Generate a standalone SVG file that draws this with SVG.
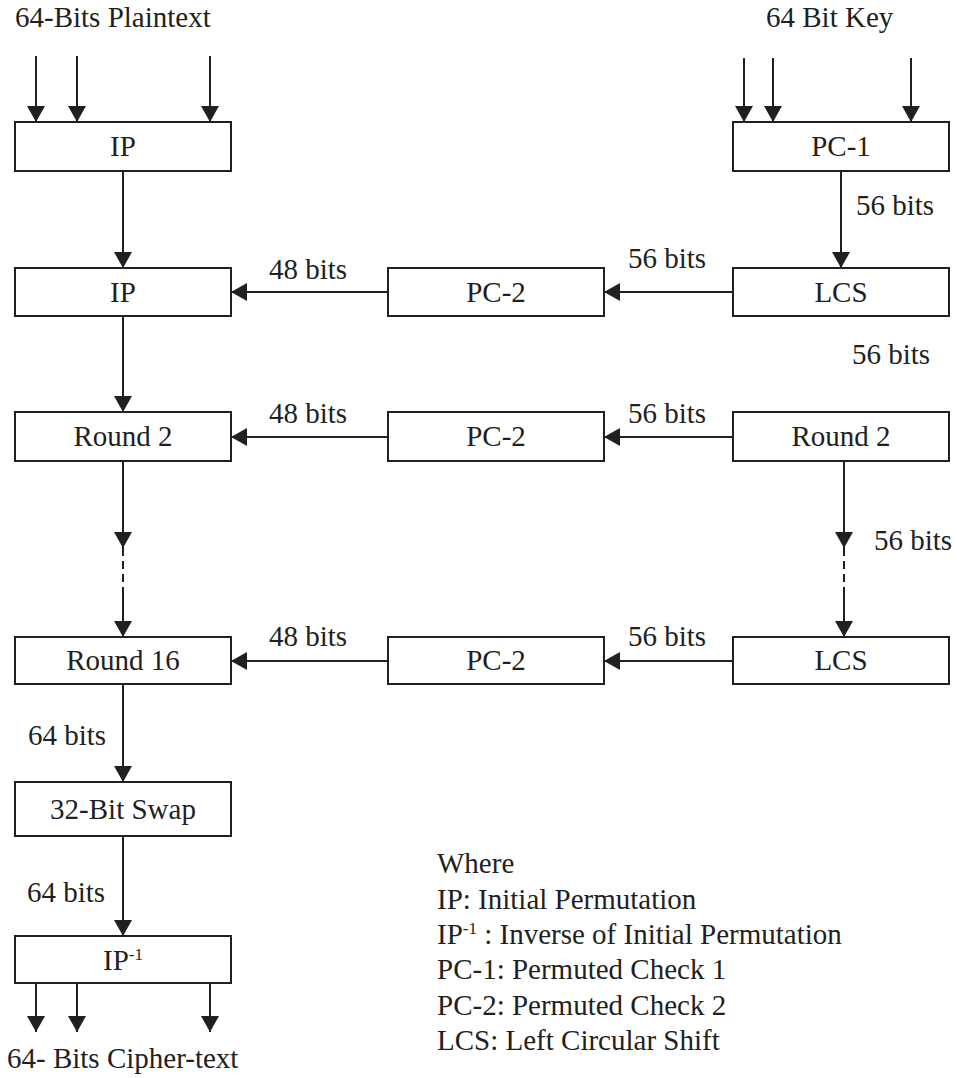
<svg xmlns="http://www.w3.org/2000/svg" width="957" height="1078" viewBox="0 0 957 1078" font-family="'Liberation Serif', 'Times New Roman', Times, 'DejaVu Serif', serif">
  <style>
    .box { fill: #ffffff; stroke: #231f20; stroke-width: 2; }
    .lbl { font-family: 'Liberation Serif', 'Times New Roman', Times, 'DejaVu Serif', serif; font-size: 29px; fill: #231f20; }
    .mid { text-anchor: middle; }
    .sup { font-size: 17px; }
    .ln { fill: none; stroke: #231f20; stroke-width: 2; }
    .arr { marker-end: url(#head); }
    .dash { stroke-dasharray: 8 5; }
  </style>
  <defs>
    <marker id="head" viewBox="0 0 16 18" refX="16" refY="9" markerWidth="16" markerHeight="18" markerUnits="userSpaceOnUse" orient="auto">
      <path d="M0,0 L16,9 L0,18 z" fill="#231f20"/>
    </marker>
  </defs>
  <rect width="957" height="1078" fill="#ffffff"/>

  <!-- connectors -->
  <g id="connectors">
    <!-- plaintext inputs -->
    <line class="ln arr" x1="36" y1="56" x2="36" y2="122"/>
    <line class="ln arr" x1="77" y1="56" x2="77" y2="122"/>
    <line class="ln arr" x1="210" y1="56" x2="210" y2="122"/>
    <!-- key inputs -->
    <line class="ln arr" x1="744" y1="58" x2="744" y2="122"/>
    <line class="ln arr" x1="773" y1="58" x2="773" y2="122"/>
    <line class="ln arr" x1="911" y1="58" x2="911" y2="122"/>
    <!-- data path -->
    <line class="ln arr" x1="123" y1="171" x2="123" y2="268"/>
    <line class="ln arr" x1="123" y1="316" x2="123" y2="412"/>
    <line class="ln arr" x1="123" y1="461" x2="123" y2="548"/>
    <line class="ln dash" x1="123" y1="548" x2="123" y2="593"/>
    <line class="ln arr" x1="123" y1="593" x2="123" y2="637"/>
    <line class="ln arr" x1="123" y1="684" x2="123" y2="782"/>
    <line class="ln arr" x1="123" y1="836" x2="123" y2="936"/>
    <!-- key path -->
    <line class="ln arr" x1="841" y1="171" x2="841" y2="268"/>
    <line class="ln arr" x1="844" y1="461" x2="844" y2="548"/>
    <line class="ln dash" x1="844" y1="548" x2="844" y2="593"/>
    <line class="ln arr" x1="844" y1="593" x2="844" y2="637"/>
    <!-- subkey rows -->
    <line class="ln arr" x1="733" y1="292" x2="604" y2="292"/>
    <line class="ln arr" x1="388" y1="292" x2="231" y2="292"/>
    <line class="ln arr" x1="733" y1="437" x2="604" y2="437"/>
    <line class="ln arr" x1="388" y1="437" x2="231" y2="437"/>
    <line class="ln arr" x1="733" y1="661" x2="604" y2="661"/>
    <line class="ln arr" x1="388" y1="661" x2="231" y2="661"/>
    <!-- ciphertext outputs -->
    <line class="ln arr" x1="36" y1="983" x2="36" y2="1032"/>
    <line class="ln arr" x1="77" y1="983" x2="77" y2="1032"/>
    <line class="ln arr" x1="210" y1="983" x2="210" y2="1032"/>
  </g>

  <!-- nodes -->
  <g id="ip-initial">
    <rect class="box" x="15" y="122" width="216" height="49"/>
    <text class="lbl mid" x="123" y="156">IP</text>
  </g>
  <g id="pc1">
    <rect class="box" x="733" y="122" width="216" height="49"/>
    <text class="lbl mid" x="841" y="156">PC-1</text>
  </g>
  <g id="ip-round1">
    <rect class="box" x="15" y="268" width="216" height="48"/>
    <text class="lbl mid" x="123" y="302">IP</text>
  </g>
  <g id="pc2-row1">
    <rect class="box" x="388" y="268" width="216" height="48"/>
    <text class="lbl mid" x="496" y="302">PC-2</text>
  </g>
  <g id="lcs-row1">
    <rect class="box" x="733" y="268" width="216" height="48"/>
    <text class="lbl mid" x="841" y="302">LCS</text>
  </g>
  <g id="round2-data">
    <rect class="box" x="15" y="412" width="216" height="49"/>
    <text class="lbl mid" x="123" y="446">Round 2</text>
  </g>
  <g id="pc2-row2">
    <rect class="box" x="388" y="412" width="216" height="49"/>
    <text class="lbl mid" x="496" y="446">PC-2</text>
  </g>
  <g id="round2-key">
    <rect class="box" x="733" y="412" width="216" height="49"/>
    <text class="lbl mid" x="841" y="446">Round 2</text>
  </g>
  <g id="round16">
    <rect class="box" x="15" y="637" width="216" height="47"/>
    <text class="lbl mid" x="123" y="670">Round 16</text>
  </g>
  <g id="pc2-row3">
    <rect class="box" x="388" y="637" width="216" height="47"/>
    <text class="lbl mid" x="496" y="670">PC-2</text>
  </g>
  <g id="lcs-row3">
    <rect class="box" x="733" y="637" width="216" height="47"/>
    <text class="lbl mid" x="841" y="670">LCS</text>
  </g>
  <g id="swap">
    <rect class="box" x="15" y="782" width="216" height="54"/>
    <text class="lbl mid" x="123" y="819">32-Bit Swap</text>
  </g>
  <g id="ip-inverse">
    <rect class="box" x="15" y="936" width="216" height="47"/>
    <text class="lbl mid" x="123" y="970">IP<tspan class="sup" dy="-10">-1</tspan></text>
  </g>

  <!-- labels -->
  <g id="labels">
    <text class="lbl" x="15" y="27">64-Bits Plaintext</text>
    <text class="lbl" x="766" y="27">64 Bit Key</text>
    <text class="lbl" x="856" y="215">56 bits</text>
    <text class="lbl" x="269" y="279">48 bits</text>
    <text class="lbl" x="628" y="268">56 bits</text>
    <text class="lbl" x="852" y="364">56 bits</text>
    <text class="lbl" x="269" y="423">48 bits</text>
    <text class="lbl" x="628" y="423">56 bits</text>
    <text class="lbl" x="874" y="550">56 bits</text>
    <text class="lbl" x="269" y="646">48 bits</text>
    <text class="lbl" x="628" y="646">56 bits</text>
    <text class="lbl" x="28" y="745">64 bits</text>
    <text class="lbl" x="27" y="902">64 bits</text>
    <text class="lbl" x="7" y="1068">64- Bits Cipher-text</text>
  </g>

  <!-- legend -->
  <g id="legend">
    <text class="lbl" x="437" y="873">Where</text>
    <text class="lbl" x="437" y="909">IP: Initial Permutation</text>
    <text class="lbl" x="437" y="944">IP<tspan class="sup" dy="-10">-1</tspan><tspan dy="10"> : Inverse of Initial Permutation</tspan></text>
    <text class="lbl" x="437" y="979">PC-1: Permuted Check 1</text>
    <text class="lbl" x="437" y="1015">PC-2: Permuted Check 2</text>
    <text class="lbl" x="437" y="1050">LCS: Left Circular Shift</text>
  </g>
</svg>
